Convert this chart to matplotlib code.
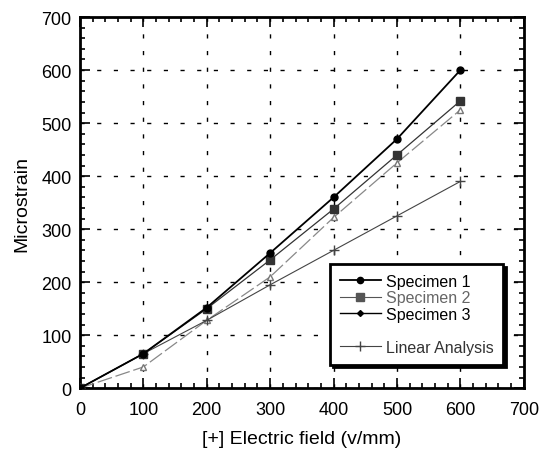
import matplotlib
matplotlib.use("Agg")
import matplotlib.pyplot as plt
from matplotlib.lines import Line2D
from matplotlib.ticker import MultipleLocator

plt.rcParams['font.family'] = ['Liberation Sans', 'DejaVu Sans']

# data
field = [0, 100, 200, 300, 400, 500, 600]
spec1 = [0, 65, 152, 255, 360, 470, 600]
spec2 = [0, 65, 150, 242, 338, 440, 542]
spec3 = [0, 40, 128, 210, 322, 425, 525]
linear = [0, 65, 128, 195, 260, 325, 390]

fig = plt.figure(figsize=(5.4, 4.52), dpi=100)
ax = fig.add_axes([0.148, 0.139, 0.822, 0.821])

ax.plot(field, spec1, color='black', lw=1.3, marker='o', ms=5, zorder=5)
ax.plot(field, spec2, color='#333333', lw=0.9, marker='s', ms=6, zorder=4)
ax.plot(field, spec3, color='#888888', lw=0.9, marker='^', ms=4,
        mfc='white', mec='#777777', dashes=(12, 3), zorder=3)
ax.plot(field, linear, color='#444444', lw=0.8, marker='+', ms=7, zorder=3)

ax.set_xlim(0, 700)
ax.set_ylim(0, 700)
ax.xaxis.set_major_locator(MultipleLocator(100))
ax.yaxis.set_major_locator(MultipleLocator(100))
ax.xaxis.set_minor_locator(MultipleLocator(20))
ax.yaxis.set_minor_locator(MultipleLocator(20))
ax.tick_params(which='both', direction='in', top=True, right=True,
               labelsize=13, width=1.2)
ax.tick_params(which='major', length=7)
ax.tick_params(which='minor', length=3.5)
ax.tick_params(axis='x', which='major', pad=9)
ax.tick_params(axis='y', which='major', pad=6)
ax.grid(True, which='major', color='black', linestyle=(0, (3, 9)), lw=1.0)
for sp in ax.spines.values():
    sp.set_linewidth(2)

ax.set_xlabel('[+] Electric field (v/mm)', fontsize=14, labelpad=9)
ax.set_ylabel('Microstrain', fontsize=14, labelpad=8)

handles = [
    Line2D([], [], color='black', lw=1.3, marker='o', ms=4.5),
    Line2D([], [], color='#555555', lw=0.8, marker='s', ms=5.5),
    Line2D([], [], color='black', lw=1.0, marker='D', ms=3),
    Line2D([], [], color='none'),
    Line2D([], [], color='#444444', lw=0.8, marker='+', ms=7),
]
labels = ['Specimen 1', 'Specimen 2', 'Specimen 3', ' ', 'Linear Analysis']
leg = ax.legend(handles, labels, loc='lower right', bbox_to_anchor=(0.972, 0.042),
                fontsize=11.5, fancybox=False, framealpha=1, edgecolor='black',
                shadow={'color': 'black', 'alpha': 1}, handlelength=2.6,
                labelspacing=0.1, borderpad=0.6, handletextpad=0.3)
leg.get_frame().set_linewidth(2)
leg.get_texts()[1].set_color('#666666')
leg.get_texts()[4].set_color('#333333')

fig.savefig('out.png', dpi=100)
